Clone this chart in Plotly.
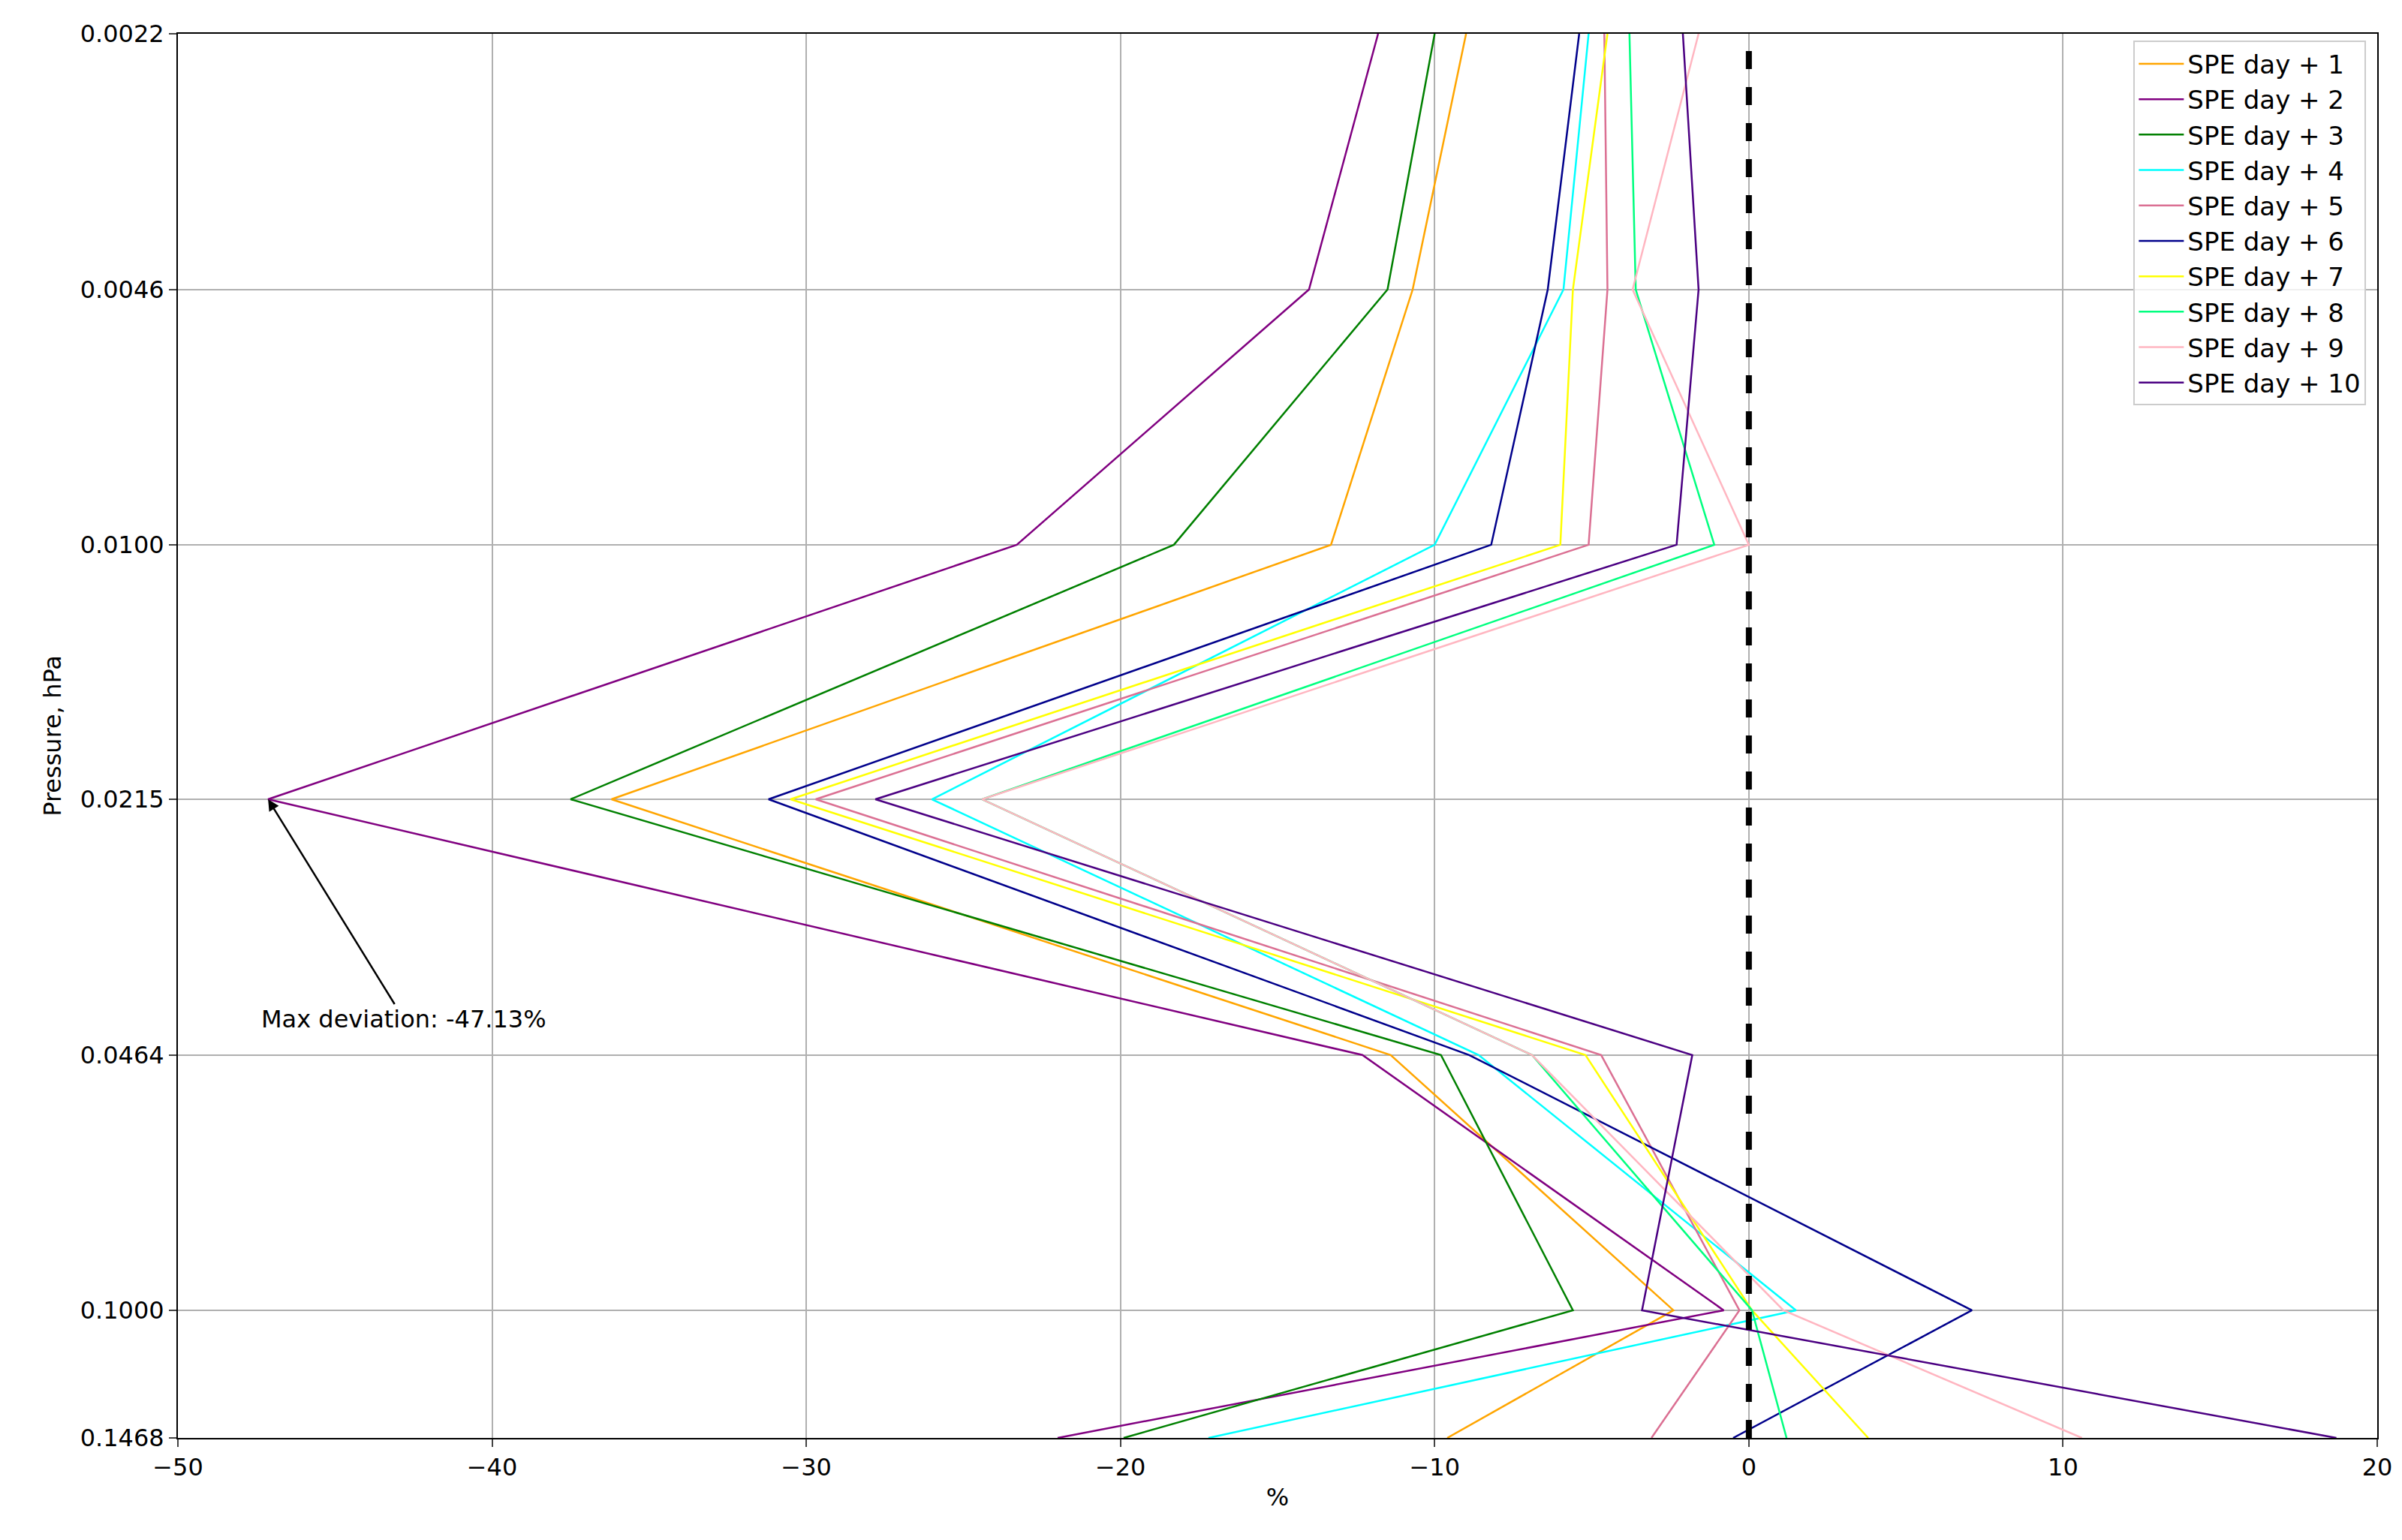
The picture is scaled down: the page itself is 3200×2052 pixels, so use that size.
import plotly.graph_objects as go
import math

pressure = [0.00215, 0.00464, 0.0100, 0.0215, 0.0464, 0.1000, 0.1468]
tick_vals = [0.00215, 0.00464, 0.0100, 0.0215, 0.0464, 0.1000, 0.1468]
tick_text = ["0.0022", "0.0046", "0.0100", "0.0215", "0.0464", "0.1000", "0.1468"]

day1 = [-9.0, -10.7, -13.3, -36.2, -11.4, -2.4, -9.6]
day2 = [-11.8, -14.0, -23.3, -47.13, -12.3, -0.8, -22.0]
day3 = [-10.0, -11.5, -18.3, -37.5, -9.8, -5.6, -19.9]
day4 = [-5.1, -5.9, -10.0, -26.0, -8.6, 1.5, -17.2]
day5 = [-4.6, -4.5, -5.1, -29.7, -4.7, -0.3, -3.1]
day6 = [-5.4, -6.4, -8.2, -31.2, -8.9, 7.1, -0.5]
day7 = [-4.5, -5.6, -6.0, -30.5, -5.2, 0.1, 3.8]
day8 = [-3.8, -3.6, -1.1, -24.4, -6.9, 0.1, 1.2]
day9 = [-1.6, -3.7, 0.0, -24.4, -6.9, 1.1, 10.6]
day10 = [-2.1, -1.6, -2.3, -27.8, -1.8, -3.4, 18.7]

series = [day1, day2, day3, day4, day5, day6, day7, day8, day9, day10]
names = [f"SPE day + {i}" for i in range(1, 11)]
colors = ["orange", "purple", "green", "cyan", "palevioletred", "darkblue",
          "yellow", "springgreen", "lightpink", "indigo"]

fig = go.Figure()
for s, n, c in zip(series, names, colors):
    fig.add_trace(go.Scatter(x=s, y=pressure, mode="lines", name=n,
                             line=dict(color=c, width=2.5)))

fig.add_shape(type="line", x0=0, x1=0, y0=0, y1=1, xref="x", yref="paper",
              line=dict(color="black", width=8, dash="dash"))

fig.add_annotation(x=min(day2), y=math.log10(0.0215), ax=-42.8, ay=math.log10(0.0417),
                   axref="x", ayref="y", xref="x", yref="y",
                   text="Max deviation: -47.13%", showarrow=True, arrowhead=2,
                   arrowcolor="black", arrowsize=1.2, arrowwidth=2.5,
                   xanchor="center", yanchor="middle",
                   font=dict(size=32, color="black"))

font = "DejaVu Sans"
fig.update_layout(
    width=3200, height=2052, paper_bgcolor="white", plot_bgcolor="white",
    margin=dict(l=229, r=41, t=37, b=144),
    font=dict(family=font, size=32, color="black"),
    legend=dict(x=0.995, y=0.995, xanchor="right", yanchor="top",
                bordercolor="#cccccc", borderwidth=2, bgcolor="rgba(255,255,255,0.8)",
                font=dict(size=34), tracegroupgap=4, itemwidth=60),
    xaxis=dict(range=[-50, 20], dtick=10, showgrid=True, gridcolor="#b0b0b0", gridwidth=2,
               zeroline=False, showline=True, linecolor="black", linewidth=2, mirror=True,
               ticks="outside", ticklen=10, tickwidth=2,
               title=dict(text="%", font=dict(size=32), standoff=10)),
    yaxis=dict(type="log", range=[math.log10(0.1468), math.log10(0.00215)],
               tickvals=tick_vals, ticktext=tick_text, showgrid=True, gridcolor="#b0b0b0",
               gridwidth=2, zeroline=False, showline=True, linecolor="black", linewidth=2,
               mirror=True, ticks="outside", ticklen=10, tickwidth=2,
               title=dict(text="Pressure, hPa", font=dict(size=32), standoff=15)),
)
fig.write_html("out.html")
